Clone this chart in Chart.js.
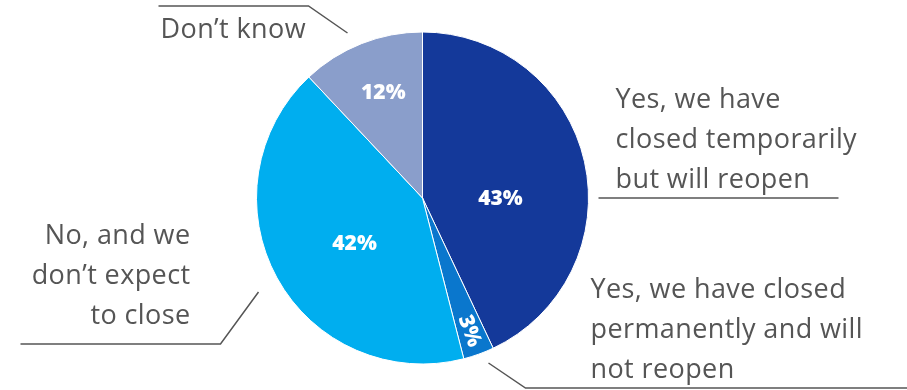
<!DOCTYPE html>
<html>
<head>
<meta charset="utf-8">
<script src="https://cdn.jsdelivr.net/npm/chart.js@4/dist/chart.umd.min.js"></script>
<style>
  html, body { margin: 0; padding: 0; background: #fff; }
  #wrap { width: 907px; height: 390px; position: relative; }
</style>
</head>
<body>
<div id="wrap"><canvas id="closureChart"></canvas></div>
<script>
// Survey answers, clockwise from 12 o'clock
const categories = [
  'Yes, we have closed temporarily but will reopen',
  'Yes, we have closed permanently and will not reopen',
  "No, and we don\u2019t expect to close",
  "Don\u2019t know"
];
const shares = [43, 3, 42, 12];
const sliceColors = ['#14399a', '#0a77cd', '#00aeef', '#8a9ecb'];

// Wrapped text for each outside label
const calloutLines = [
  ['Yes, we have', 'closed temporarily', 'but will reopen'],
  ['Yes, we have closed', 'permanently and will', 'not reopen'],
  ['No, and we', 'don\u2019t expect', 'to close'],
  ['Don\u2019t know']
];

// Outside label placement: text anchor + leader polyline, in px relative to the pie centre
const callouts = [
  { x: 193, y: -90, align: 'left', line: [[176, 0], [416, 0]] },
  { x: 168, y: 100, align: 'left', line: [[66, 165], [103, 190], [490, 190]] },
  { x: -232, y: 46, align: 'right', line: [[-164, 94], [-202, 146], [-402, 146]] },
  { x: -262, y: -160, align: 'left', line: [[-75, -165], [-114, -192], [-264, -192]] }
];

// In-slice percentage labels: position along the slice (0..1), radius fraction, rotation
const pctPlacement = [
  { t: 0.58, r: 0.47, rotate: false },
  { t: 0.5, r: 0.85, rotate: true },
  { t: 0.47, r: 0.49, rotate: false },
  { t: 0.53, r: 0.68, rotate: false }
];

const labelPlugin = {
  id: 'pieLabels',
  afterDatasetsDraw(chart) {
    const ctx = chart.ctx;
    const arcs = chart.getDatasetMeta(0).data;
    const cx = arcs[0].x, cy = arcs[0].y;

    ctx.save();
    // percentages inside the slices
    ctx.fillStyle = '#ffffff';
    ctx.font = '800 21px "Open Sans", sans-serif';
    ctx.textAlign = 'center';
    ctx.textBaseline = 'middle';
    arcs.forEach((arc, i) => {
      const p = pctPlacement[i];
      const a = arc.startAngle + (arc.endAngle - arc.startAngle) * p.t;
      const rr = arc.outerRadius * p.r;
      const x = cx + Math.cos(a) * rr, y = cy + Math.sin(a) * rr;
      ctx.save();
      ctx.translate(x, y);
      if (p.rotate) ctx.rotate(a);
      ctx.fillText(shares[i] + '%', 0, 1);
      ctx.restore();
    });

    // category text and leader lines
    ctx.font = '27px "Open Sans", sans-serif';
    ctx.letterSpacing = '0.4px';
    ctx.fillStyle = '#555555';
    ctx.textBaseline = 'alphabetic';
    ctx.strokeStyle = '#555555';
    ctx.lineWidth = 1.5;
    callouts.forEach((c, i) => {
      ctx.textAlign = c.align;
      calloutLines[i].forEach((txt, k) => {
        ctx.fillText(txt, cx + c.x, cy + c.y + k * 40);
      });
      ctx.beginPath();
      c.line.forEach((pt, k) => {
        const px = cx + pt[0], py = cy + pt[1];
        if (k === 0) ctx.moveTo(px, py); else ctx.lineTo(px, py);
      });
      ctx.stroke();
    });
    ctx.restore();
  }
};

new Chart(document.getElementById('closureChart'), {
  type: 'pie',
  data: {
    labels: categories,
    datasets: [{
      data: shares,
      backgroundColor: sliceColors,
      borderColor: '#ffffff',
      borderWidth: 1
    }]
  },
  options: {
    responsive: true,
    maintainAspectRatio: false,
    animation: false,
    layout: { padding: { left: 256, right: 318, top: 31, bottom: 25 } },
    plugins: {
      legend: { display: false },
      tooltip: { enabled: false }
    }
  },
  plugins: [labelPlugin]
});
</script>
</body>
</html>
